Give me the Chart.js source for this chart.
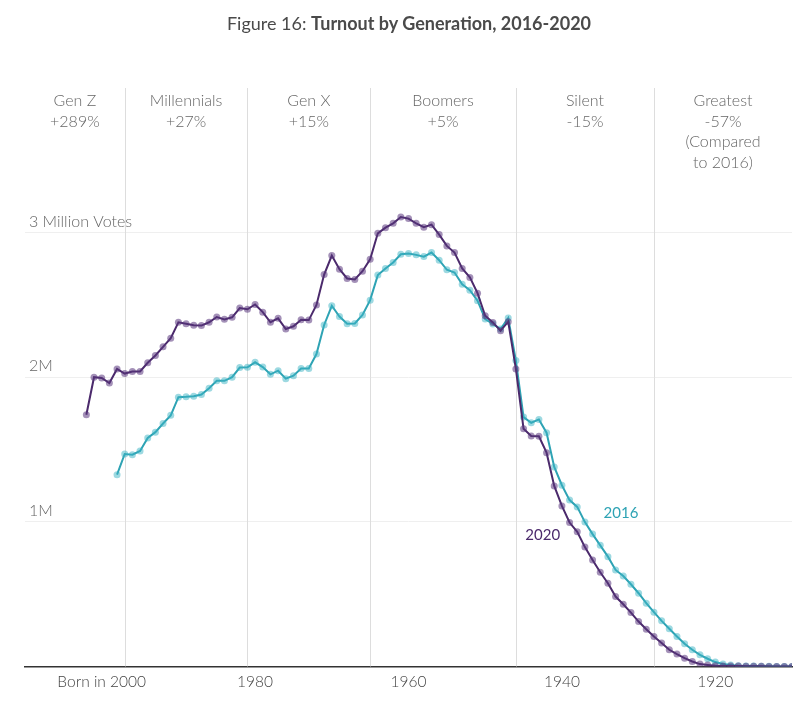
<!DOCTYPE html>
<html>
<head>
<meta charset="utf-8">
<script src="https://cdn.jsdelivr.net/npm/chart.js@4.4.0/dist/chart.umd.min.js"></script>
<style>
  body { margin: 0; background: #fff; }
  #wrap { position: relative; width: 805px; height: 702px; }
  #titulo {
    position: absolute; top: 12px; left: 0; width: 818px; text-align: center;
    font-family: Lato, "Open Sans", sans-serif; font-size: 18px; color: #4a4a4a;
  }
  #titulo b { font-weight: 700; }
  canvas { position: absolute; top: 0; left: 0; }
</style>
</head>
<body>
<div id="wrap">
  <canvas id="grafico" width="805" height="702"></canvas>
  <div id="titulo">Figure 16: <b>Turnout by Generation, 2016-2020</b></div>
</div>
<script>
// anos de nascimento (eixo x invertido)
var anos = [2002, 2001, 2000, 1999, 1998, 1997, 1996, 1995, 1994, 1993,
  1992, 1991, 1990, 1989, 1988, 1987, 1986, 1985, 1984, 1983,
  1982, 1981, 1980, 1979, 1978, 1977, 1976, 1975, 1974, 1973,
  1972, 1971, 1970, 1969, 1968, 1967, 1966, 1965, 1964, 1963,
  1962, 1961, 1960, 1959, 1958, 1957, 1956, 1955, 1954, 1953,
  1952, 1951, 1950, 1949, 1948, 1947, 1946, 1945, 1944, 1943,
  1942, 1941, 1940, 1939, 1938, 1937, 1936, 1935, 1934, 1933,
  1932, 1931, 1930, 1929, 1928, 1927, 1926, 1925, 1924, 1923,
  1922, 1921, 1920, 1919, 1918, 1917, 1916, 1915, 1914, 1913,
  1912, 1911, 1910]

// votos em milhoes
var votos2020 = [1.74, 2.00, 1.995, 1.96, 2.057, 2.025, 2.04, 2.04, 2.10, 2.15,
  2.21, 2.27, 2.38, 2.37, 2.36, 2.357, 2.38, 2.416, 2.40, 2.414,
  2.478, 2.47, 2.503, 2.45, 2.38, 2.407, 2.333, 2.352, 2.398, 2.395,
  2.50, 2.71, 2.841, 2.747, 2.683, 2.676, 2.733, 2.816, 2.995, 3.034,
  3.064, 3.108, 3.097, 3.064, 3.037, 3.055, 2.986, 2.908, 2.862, 2.752,
  2.69, 2.581, 2.425, 2.379, 2.322, 2.384, 2.057, 1.644, 1.593, 1.591,
  1.478, 1.248, 1.11, 0.995, 0.931, 0.825, 0.736, 0.651, 0.575, 0.483,
  0.43, 0.372, 0.31, 0.257, 0.207, 0.161, 0.115, 0.085, 0.057, 0.034,
  0.016, 0.01, 0.005, 0.003, 0.002, 0.002, 0.001, 0.001, 0.001, 0,
  0, 0, 0]

var votos2016 = [null, null, null, null, 1.326, 1.469, 1.464, 1.49, 1.58, 1.62,
  1.68, 1.736, 1.862, 1.864, 1.869, 1.88, 1.924, 1.975, 1.975, 2.0,
  2.067, 2.069, 2.103, 2.07, 2.02, 2.045, 1.99, 2.01, 2.06, 2.06,
  2.16, 2.361, 2.494, 2.42, 2.37, 2.372, 2.43, 2.533, 2.706, 2.752,
  2.793, 2.85, 2.855, 2.846, 2.834, 2.862, 2.809, 2.743, 2.724, 2.643,
  2.602, 2.529, 2.402, 2.368, 2.333, 2.409, 2.115, 1.724, 1.685, 1.708,
  1.616, 1.379, 1.253, 1.15, 1.103, 0.998, 0.915, 0.837, 0.759, 0.667,
  0.625, 0.568, 0.506, 0.437, 0.375, 0.315, 0.26, 0.207, 0.156, 0.115,
  0.08, 0.053, 0.03, 0.016, 0.01, 0.005, 0.003, 0.002, 0.001, 0.001,
  0, 0, 0]

var ticksX = [2000, 1980, 1960, 1940, 1920]
var ticksY = [0, 1, 2, 3, 4]
var rotulosY = {1: '1M', 2: '2M', 3: '3 Million Votes'}

// geracoes: primeiro ano de cada uma
var limites = [1997, 1981, 1965, 1946, 1928]
var geracoes = ['Gen Z', 'Millennials', 'Gen X', 'Boomers', 'Silent', 'Greatest']
var variacao = [['+289%'], ['+27%'], ['+15%'], ['+5%'], ['-15%'], ['-57%', '(Compared', 'to 2016)']]

var roxo = '#4b2a6c'
var azul = '#2ea3b4'

var pontos2020 = anos.map(function(a, i) { return {x: a, y: votos2020[i]} })
var pontos2016 = anos.map(function(a, i) { return {x: a, y: votos2016[i]} })

var fonte = 'Lato, "Open Sans", sans-serif'

var pluginGeracoes = {
  id: 'geracoes',
  beforeDatasetsDraw: function(chart) {
    var ctx = chart.ctx
    var area = chart.chartArea
    var x = chart.scales.x
    ctx.save()
    ctx.strokeStyle = '#dddddd'
    ctx.lineWidth = 1
    limites.forEach(function(a) {
      var px = Math.round(x.getPixelForValue(a)) + 0.5
      ctx.beginPath()
      ctx.moveTo(px, area.top)
      ctx.lineTo(px, area.bottom)
      ctx.stroke()
    })
    var bordas = [x.max].concat(limites).concat([x.min]).map(function(a) { return x.getPixelForValue(a) })
    ctx.fillStyle = '#666'
    ctx.font = '300 16px ' + fonte
    ctx.textAlign = 'center'
    ctx.textBaseline = 'middle'
    geracoes.forEach(function(g, i) {
      var cx = (bordas[i] + bordas[i + 1]) / 2
      var linhas = [g].concat(variacao[i])
      linhas.forEach(function(t, j) {
        ctx.fillText(t, cx, area.top + 13 + j * 20.5)
      })
    })
    ctx.restore()
  },
  afterDatasetsDraw: function(chart) {
    var ctx = chart.ctx
    var x = chart.scales.x
    var y = chart.scales.y
    ctx.save()
    ctx.font = '15px ' + fonte
    ctx.textAlign = 'center'
    ctx.textBaseline = 'middle'
    ctx.fillStyle = azul
    ctx.fillText('2016', x.getPixelForValue(1932.3), y.getPixelForValue(1.06))
    ctx.fillStyle = roxo
    ctx.fillText('2020', x.getPixelForValue(1942.5), y.getPixelForValue(0.91))
    ctx.restore()
  }
}

var ctx = document.getElementById('grafico').getContext('2d')
var grafico = new Chart(ctx, {
  type: 'line',
  data: {
    datasets: [{
      label: '2020',
      data: pontos2020,
      borderColor: roxo,
      backgroundColor: roxo,
      pointBackgroundColor: 'rgba(90, 55, 125, 0.55)',
      pointBorderWidth: 0,
      pointRadius: 3.5,
      borderWidth: 2,
      tension: 0
    },
    {
      label: '2016',
      data: pontos2016,
      borderColor: azul,
      backgroundColor: azul,
      pointBackgroundColor: 'rgba(60, 180, 195, 0.5)',
      pointBorderWidth: 0,
      pointRadius: 3.5,
      borderWidth: 2,
      tension: 0
    }]
  },
  options: {
    responsive: false,
    animation: false,
    layout: {
      padding: {left: 17, right: 13, top: 88, bottom: 13}
    },
    plugins: {
      legend: {display: false},
      tooltip: {enabled: false}
    },
    scales: {
      x: {
        type: 'linear',
        reverse: true,
        min: 1910,
        max: 2010,
        afterBuildTicks: function(axis) {
          axis.ticks = ticksX.map(function(v) { return {value: v} })
        },
        grid: {display: false},
        border: {display: true, color: '#333', width: 1.5},
        ticks: {
          color: '#444',
          padding: -2,
          maxRotation: 0,
          font: {family: fonte, size: 15.5, weight: '300'},
          callback: function(v) { return v === 2000 ? 'Born in 2000' : String(v) }
        }
      },
      y: {
        min: 0,
        max: 4,
        afterBuildTicks: function(axis) {
          axis.ticks = ticksY.map(function(v) { return {value: v} })
        },
        border: {display: false},
        grid: {
          drawTicks: false,
          color: function(c) { return (c.tick.value > 0 && c.tick.value < 4) ? '#efefef' : 'rgba(0,0,0,0)' }
        },
        ticks: {
          mirror: true,
          padding: 4,
          labelOffset: -11,
          color: '#666',
          font: {family: fonte, size: 16, weight: '300'},
          callback: function(v) { return rotulosY[v] || '' }
        }
      }
    }
  },
  plugins: [pluginGeracoes]
})
</script>
</body>
</html>
